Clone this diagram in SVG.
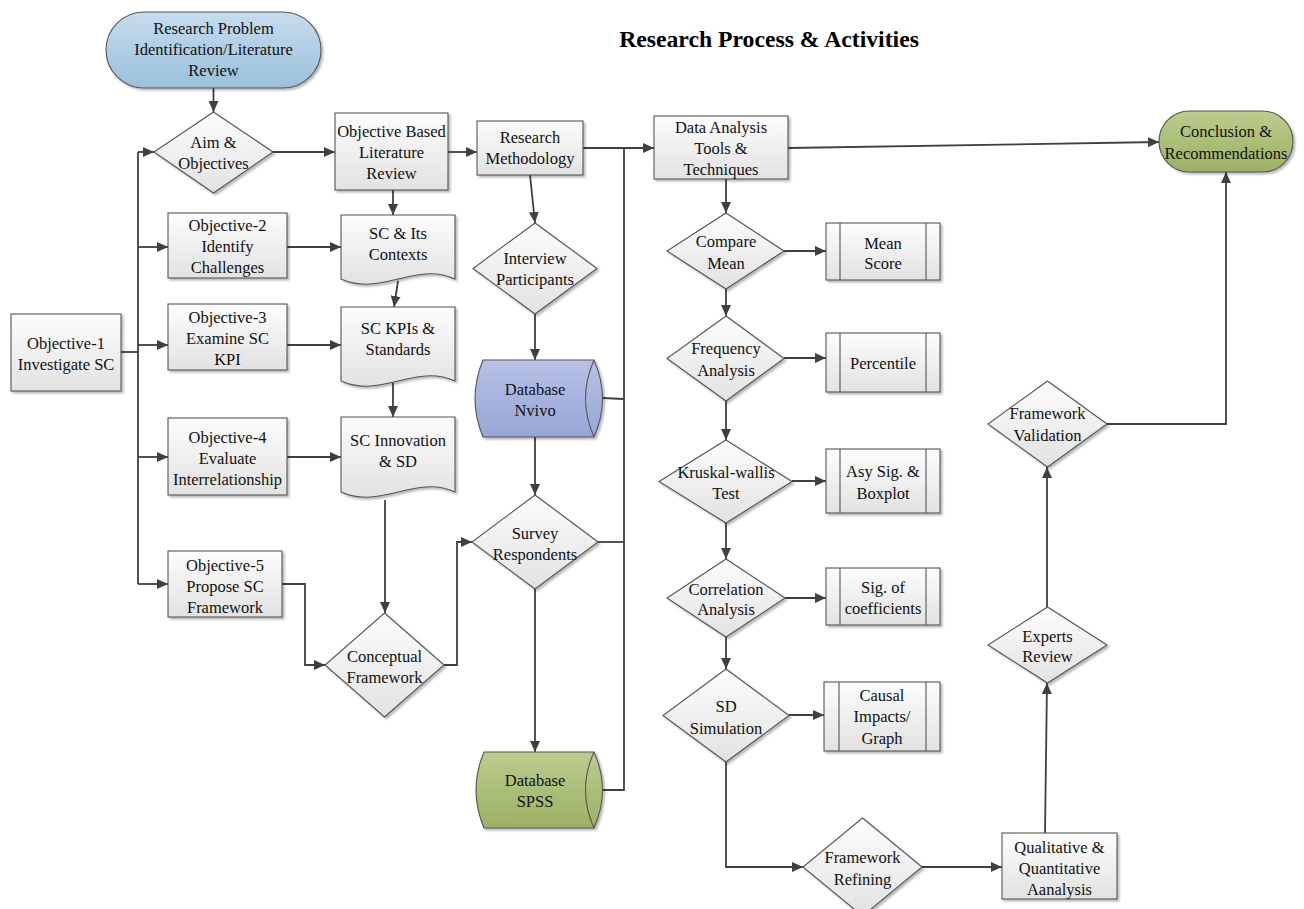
<svg xmlns="http://www.w3.org/2000/svg" width="1304" height="909" viewBox="0 0 1304 909" font-family="'Liberation Serif', 'Times New Roman', Times, 'DejaVu Serif', serif">
  <defs>
    <linearGradient id="gGray" x1="0" y1="0" x2="0" y2="1">
      <stop offset="0" stop-color="#fdfdfd"/>
      <stop offset="1" stop-color="#e2e2e2"/>
    </linearGradient>
    <linearGradient id="gBlue" x1="0" y1="0" x2="0" y2="1">
      <stop offset="0" stop-color="#c6dcee"/>
      <stop offset="1" stop-color="#9bc0dc"/>
    </linearGradient>
    <linearGradient id="gGreen" x1="0" y1="0" x2="0" y2="1">
      <stop offset="0" stop-color="#bccc8e"/>
      <stop offset="1" stop-color="#9bb163"/>
    </linearGradient>
    <linearGradient id="gPurple" x1="0" y1="0" x2="0" y2="1">
      <stop offset="0" stop-color="#b8c2e6"/>
      <stop offset="1" stop-color="#97a5d7"/>
    </linearGradient>
    <filter id="shadow" x="-10%" y="-10%" width="125%" height="130%">
      <feDropShadow dx="2" dy="2" stdDeviation="1.3" flood-color="#000" flood-opacity="0.28"/>
    </filter>
    <marker id="arrow" markerUnits="userSpaceOnUse" markerWidth="12" markerHeight="10" refX="11" refY="5" orient="auto">
      <path d="M0,0 L11,5 L0,10 z" fill="#404040"/>
    </marker>
  </defs>
  <style>
    .box { fill: url(#gGray); stroke: #555; stroke-width: 1.1; filter: url(#shadow); }
    .blue { fill: url(#gBlue); stroke: #555; stroke-width: 1.1; filter: url(#shadow); }
    .green { fill: url(#gGreen); stroke: #555; stroke-width: 1.1; filter: url(#shadow); }
    .purple { fill: url(#gPurple); stroke: #555; stroke-width: 1.1; filter: url(#shadow); }
    .inner { fill: none; stroke: #555; stroke-width: 1.1; }
    text { font-family: 'Liberation Serif', 'Times New Roman', Times, 'DejaVu Serif', serif; }
    .lbl { font-size: 16.5px; fill: #111; text-anchor: middle; }
    .title { font-size: 23.7px; font-weight: bold; fill: #000; text-anchor: middle; }
    .conn { fill: none; stroke: #404040; stroke-width: 1.8; }
    .arr { marker-end: url(#arrow); }
  </style>

  <rect width="1304" height="909" fill="#ffffff"/>

  <text class="title" x="769" y="47">Research Process &amp; Activities</text>

  <!-- connectors -->
  <g id="connectors">
    <path class="conn arr" d="M213.5,88 V112"/>
    <path class="conn arr" d="M273,152 H335"/>
    <path class="conn" d="M121,352 H138"/>
    <path class="conn" d="M138,152 V584"/>
    <path class="conn arr" d="M138,152 H154"/>
    <path class="conn arr" d="M138,247 H168"/>
    <path class="conn arr" d="M138,345 H168"/>
    <path class="conn arr" d="M138,457 H168"/>
    <path class="conn arr" d="M138,584 H168"/>
    <path class="conn arr" d="M287,247 H341"/>
    <path class="conn arr" d="M287,345 H341"/>
    <path class="conn arr" d="M287,457 H341"/>
    <path class="conn arr" d="M282,584 H305 V665 H325"/>
    <path class="conn arr" d="M393,190 V215"/>
    <path class="conn arr" d="M398,281 L394,307"/>
    <path class="conn arr" d="M393,383 V417"/>
    <path class="conn arr" d="M385,500 V613"/>
    <path class="conn arr" d="M444,665 H457 V542 H472"/>
    <path class="conn arr" d="M448,152 H477"/>
    <path class="conn arr" d="M530,175 L535,223"/>
    <path class="conn arr" d="M535,314 V360"/>
    <path class="conn arr" d="M535,437 V495"/>
    <path class="conn arr" d="M535,589 V752"/>
    <path class="conn arr" d="M583,148 H654"/>
    <path class="conn" d="M603,398 L624,399"/>
    <path class="conn" d="M598,542 H624"/>
    <path class="conn" d="M603,790 H624 V148"/>
    <path class="conn arr" d="M788,148 L1159,142"/>
    <path class="conn arr" d="M726,179 V213"/>
    <path class="conn arr" d="M784,251 H826"/>
    <path class="conn arr" d="M726,289 V316"/>
    <path class="conn arr" d="M784,358 H826"/>
    <path class="conn arr" d="M726,401 V440"/>
    <path class="conn arr" d="M792,481 H826"/>
    <path class="conn arr" d="M726,523 V559"/>
    <path class="conn arr" d="M785,598 H826"/>
    <path class="conn arr" d="M726,637 V669"/>
    <path class="conn arr" d="M789,715 H824"/>
    <path class="conn arr" d="M726,762 V867 H803"/>
    <path class="conn arr" d="M922,867 H1002"/>
    <path class="conn arr" d="M1045,833 L1047,683"/>
    <path class="conn arr" d="M1047,607 V467"/>
    <path class="conn arr" d="M1107,424 H1226 V172"/>
  </g>

  <!-- left column -->
  <g id="research-problem">
    <rect class="blue" x="106" y="12" width="215" height="76" rx="38"/>
    <text class="lbl" x="213.5" y="34">Research Problem<tspan x="213.5" dy="21">Identification/Literature</tspan><tspan x="213.5" dy="21">Review</tspan></text>
  </g>
  <g id="aim-objectives">
    <polygon class="box" points="213.5,112 273,152 213.5,193 154,152"/>
    <text class="lbl" x="213.5" y="147.5">Aim &amp;<tspan x="213.5" dy="21">Objectives</tspan></text>
  </g>
  <g id="objective-1">
    <rect class="box" x="11" y="314" width="110" height="77"/>
    <text class="lbl" x="66" y="348.5">Objective-1<tspan x="66" dy="21">Investigate SC</tspan></text>
  </g>
  <g id="objective-2">
    <rect class="box" x="168" y="213" width="119" height="65"/>
    <text class="lbl" x="227.5" y="230.5">Objective-2<tspan x="227.5" dy="21">Identify</tspan><tspan x="227.5" dy="21">Challenges</tspan></text>
  </g>
  <g id="objective-3">
    <rect class="box" x="168" y="304" width="119" height="66"/>
    <text class="lbl" x="227.5" y="322.5">Objective-3<tspan x="227.5" dy="21">Examine SC</tspan><tspan x="227.5" dy="21">KPI</tspan></text>
  </g>
  <g id="objective-4">
    <rect class="box" x="168" y="418" width="119" height="77"/>
    <text class="lbl" x="227.5" y="442.5">Objective-4<tspan x="227.5" dy="21">Evaluate</tspan><tspan x="227.5" dy="21">Interrelationship</tspan></text>
  </g>
  <g id="objective-5">
    <rect class="box" x="168" y="551" width="114" height="66"/>
    <text class="lbl" x="225" y="570.5">Objective-5<tspan x="225" dy="21">Propose SC</tspan><tspan x="225" dy="21">Framework</tspan></text>
  </g>

  <!-- literature column -->
  <g id="objective-literature">
    <rect class="box" x="335" y="113" width="113" height="77"/>
    <text class="lbl" x="391.5" y="136.5">Objective Based<tspan x="391.5" dy="21">Literature</tspan><tspan x="391.5" dy="21">Review</tspan></text>
  </g>
  <g id="sc-contexts">
    <path class="box" d="M341,215 H455 V279 C415,261 381,297 341,279 Z"/>
    <text class="lbl" x="398" y="238.5">SC &amp; Its<tspan x="398" dy="21">Contexts</tspan></text>
  </g>
  <g id="sc-kpis">
    <path class="box" d="M341,307 H455 V381 C415,363 381,399 341,381 Z"/>
    <text class="lbl" x="398" y="334">SC KPIs &amp;<tspan x="398" dy="21">Standards</tspan></text>
  </g>
  <g id="sc-innovation">
    <path class="box" d="M341,417 H455 V492 C415,474 381,510 341,492 Z"/>
    <text class="lbl" x="398" y="445.5">SC Innovation<tspan x="398" dy="21">&amp; SD</tspan></text>
  </g>
  <g id="conceptual-framework">
    <polygon class="box" points="384.5,613 444,665 384.5,717 325,665"/>
    <text class="lbl" x="384.5" y="661.5">Conceptual<tspan x="384.5" dy="21">Framework</tspan></text>
  </g>

  <!-- methodology column -->
  <g id="research-methodology">
    <rect class="box" x="477" y="121" width="106" height="54"/>
    <text class="lbl" x="530" y="142.5">Research<tspan x="530" dy="21">Methodology</tspan></text>
  </g>
  <g id="interview-participants">
    <polygon class="box" points="535,223 597,268.5 535,314 473,268.5"/>
    <text class="lbl" x="535" y="263.5">Interview<tspan x="535" dy="21">Participants</tspan></text>
  </g>
  <g id="database-nvivo">
    <path class="purple" d="M483,360 H594 Q611,398.5 594,437 H483 Q467,398.5 483,360 Z"/>
    <path class="inner" d="M594,360 Q577,398.5 594,437"/>
    <text class="lbl" x="535" y="394.5">Database<tspan x="535" dy="21">Nvivo</tspan></text>
  </g>
  <g id="survey-respondents">
    <polygon class="box" points="535,495 598,542 535,589 472,542"/>
    <text class="lbl" x="535" y="538.5">Survey<tspan x="535" dy="21">Respondents</tspan></text>
  </g>
  <g id="database-spss">
    <path class="green" d="M484,752 H594 Q611,790 594,828 H484 Q468,790 484,752 Z"/>
    <path class="inner" d="M594,752 Q577,790 594,828"/>
    <text class="lbl" x="535" y="785.5">Database<tspan x="535" dy="21">SPSS</tspan></text>
  </g>

  <!-- analysis column -->
  <g id="data-analysis">
    <rect class="box" x="654" y="116" width="134" height="63"/>
    <text class="lbl" x="721" y="132.5">Data Analysis<tspan x="721" dy="21">Tools &amp;</tspan><tspan x="721" dy="21">Techniques</tspan></text>
  </g>
  <g id="compare-mean">
    <polygon class="box" points="726,213 784,251 726,289 667,251"/>
    <text class="lbl" x="726" y="246.5">Compare<tspan x="726" dy="22">Mean</tspan></text>
  </g>
  <g id="mean-score">
    <rect class="box" x="826" y="223" width="114" height="57"/>
    <path class="inner" d="M840,223 V280 M926,223 V280"/>
    <text class="lbl" x="883" y="248.5">Mean<tspan x="883" dy="20">Score</tspan></text>
  </g>
  <g id="frequency-analysis">
    <polygon class="box" points="726,316 784,358.5 726,401 667,358.5"/>
    <text class="lbl" x="726" y="353.5">Frequency<tspan x="726" dy="22">Analysis</tspan></text>
  </g>
  <g id="percentile">
    <rect class="box" x="826" y="333" width="114" height="59"/>
    <path class="inner" d="M840,333 V392 M926,333 V392"/>
    <text class="lbl" x="883" y="368.5">Percentile</text>
  </g>
  <g id="kruskal-wallis">
    <polygon class="box" points="726,440 792,481.5 726,523 659,481.5"/>
    <text class="lbl" x="726" y="477.5">Kruskal-wallis<tspan x="726" dy="21">Test</tspan></text>
  </g>
  <g id="asy-sig">
    <rect class="box" x="826" y="449" width="114" height="64"/>
    <path class="inner" d="M840,449 V513 M926,449 V513"/>
    <text class="lbl" x="883" y="476.5">Asy Sig. &amp;<tspan x="883" dy="22">Boxplot</tspan></text>
  </g>
  <g id="correlation-analysis">
    <polygon class="box" points="726,559 785,598 726,637 667,598"/>
    <text class="lbl" x="726" y="594.5">Correlation<tspan x="726" dy="20">Analysis</tspan></text>
  </g>
  <g id="sig-coefficients">
    <rect class="box" x="826" y="568" width="114" height="57"/>
    <path class="inner" d="M840,568 V625 M926,568 V625"/>
    <text class="lbl" x="883" y="592.5">Sig. of<tspan x="883" dy="21">coefficients</tspan></text>
  </g>
  <g id="sd-simulation">
    <polygon class="box" points="726,669 789,715.5 726,762 663,715.5"/>
    <text class="lbl" x="726" y="711.5">SD<tspan x="726" dy="22">Simulation</tspan></text>
  </g>
  <g id="causal-impacts">
    <rect class="box" x="824" y="682" width="116" height="69"/>
    <path class="inner" d="M839,682 V751 M926,682 V751"/>
    <text class="lbl" x="882" y="700.5">Causal<tspan x="882" dy="21.5">Impacts/</tspan><tspan x="882" dy="21.5">Graph</tspan></text>
  </g>

  <!-- validation column -->
  <g id="framework-refining">
    <polygon class="box" points="862.5,818 922,867 862.5,916 803,867"/>
    <text class="lbl" x="862.5" y="862.5">Framework<tspan x="862.5" dy="22">Refining</tspan></text>
  </g>
  <g id="qualitative-quantitative">
    <rect class="box" x="1002" y="833" width="115" height="66"/>
    <text class="lbl" x="1059.5" y="852.5">Qualitative &amp;<tspan x="1059.5" dy="21">Quantitative</tspan><tspan x="1059.5" dy="21">Aanalysis</tspan></text>
  </g>
  <g id="experts-review">
    <polygon class="box" points="1047.5,607 1107,645 1047.5,683 988,645"/>
    <text class="lbl" x="1047.5" y="641.5">Experts<tspan x="1047.5" dy="20">Review</tspan></text>
  </g>
  <g id="framework-validation">
    <polygon class="box" points="1047.5,381 1107,424 1047.5,467 988,424"/>
    <text class="lbl" x="1047.5" y="418.5">Framework<tspan x="1047.5" dy="22">Validation</tspan></text>
  </g>
  <g id="conclusion">
    <rect class="green" x="1159" y="111" width="134" height="61" rx="30.5"/>
    <text class="lbl" x="1226" y="136.5">Conclusion &amp;<tspan x="1226" dy="22">Recommendations</tspan></text>
  </g>
</svg>
